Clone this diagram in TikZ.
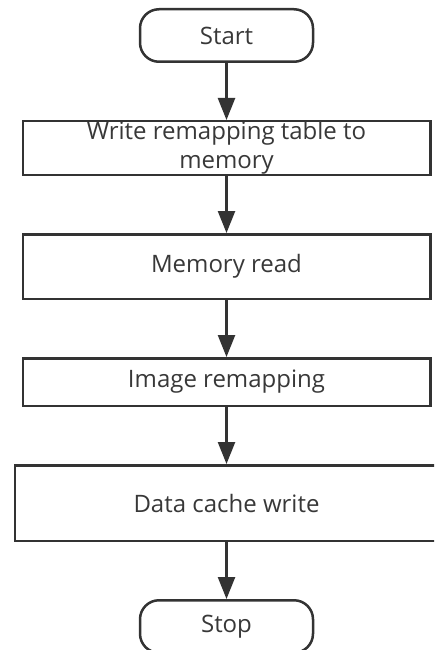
\documentclass[tikz,border=0pt]{standalone}
\usepackage{fontspec}
\setmainfont{Open Sans}
\usepackage{xcolor}
\usetikzlibrary{arrows.meta, positioning}

\definecolor{linegray}{HTML}{333333}
\definecolor{textgray}{HTML}{383838}

\begin{document}
\begin{tikzpicture}[
    x=1pt, y=1pt,
    node distance=57pt,
    mybox/.style={
        rectangle,
        minimum width=407.5pt,
        inner sep=0pt,
        draw=linegray,
        line width=2.5pt,
        text=textgray,
        align=center,
        font=\fontsize{24}{29}\selectfont
    },
    myterm/.style={
        mybox,
        rounded corners=19pt,
        minimum width=173pt,
        minimum height=52.5pt
    },
    myarrow/.style={
        -{Triangle[length=22pt, width=17pt]},
        line width=2.5pt,
        draw=linegray
    }
]
\useasboundingbox (0,0) rectangle (434,-650);
\clip (0,0) rectangle (434,-650);
\node (start) [myterm] at (226.5,-35.5) {Start};
\node (writetab) [mybox, minimum height=53.5pt, below=of start] {Write remapping table to\\memory};
\node (memread) [mybox, minimum height=64.5pt, below=of writetab] {Memory read};
\node (remap) [mybox, minimum height=47.5pt, below=of memread] {Image remapping};
\node (cache) [mybox, minimum width=423.5pt, minimum height=75.5pt, below=of remap] {Data cache write};
\node (stop) [myterm, below=of cache] {Stop};

\draw [myarrow] (start) -- (writetab);
\draw [myarrow] (writetab) -- (memread);
\draw [myarrow] (memread) -- (remap);
\draw [myarrow] (remap) -- (cache);
\draw [myarrow] (cache) -- (stop);
\end{tikzpicture}
\end{document}
